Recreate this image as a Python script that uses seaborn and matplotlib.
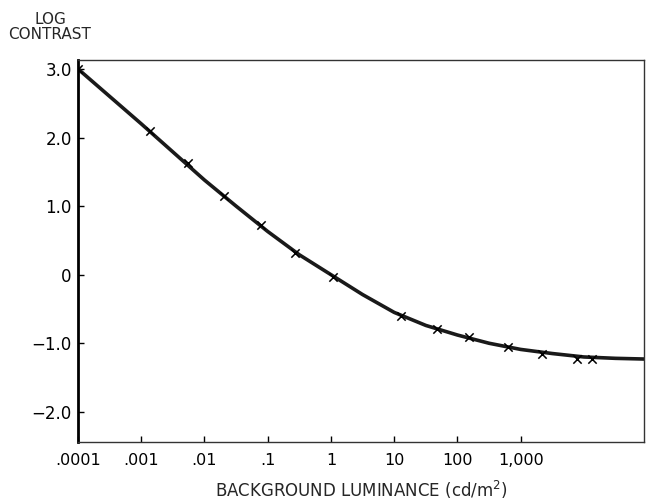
import numpy as np
import pandas as pd
import matplotlib
matplotlib.use("Agg")
import matplotlib.pyplot as plt
import seaborn as sns

# measured data points (luminance cd/m^2, log contrast)
point_lum = [0.0001, 0.00137, 0.0055, 0.0204, 0.078, 0.27, 1.06,
             12.9, 48, 155, 630, 2200, 7900, 13500]
point_logc = [3.0, 2.09, 1.63, 1.15, 0.72, 0.31, -0.03,
              -0.60, -0.795, -0.91, -1.06, -1.16, -1.23, -1.23]

# fitted curve read at half decades
curve_loglum = [-4.0, -3.5, -3.0, -2.5, -2.0, -1.5, -1.0, -0.5, 0.0, 0.5,
                1.0, 1.5, 2.0, 2.5, 3.0, 3.5, 4.0, 4.5, 4.95]
curve_logc = [3.0, 2.6, 2.2, 1.79, 1.38, 1.0, 0.63, 0.29, 0.0, -0.29,
              -0.55, -0.74, -0.88, -1.0, -1.09, -1.15, -1.2, -1.22, -1.23]

xtick_vals = [1e-4, 1e-3, 1e-2, 1e-1, 1, 10, 100, 1000]
xtick_labels = [".0001", ".001", ".01", ".1", "1", "10", "100", "1,000"]
ytick_vals = [3, 2, 1, 0, -1, -2]
ytick_labels = ["3.0", "2.0", "1.0", "0", "\u22121.0", "\u22122.0"]

sns.set_style("ticks")
plt.rcParams['font.family'] = ['DejaVu Sans']

fig = plt.figure(figsize=(6.46, 5.01), dpi=100)
ax_h = 442 - 59.7
ax = fig.add_axes([78/646, 1 - 442/501, (644 - 78)/646, ax_h/501])

curve_df = pd.DataFrame({"lum": 10.0 ** np.array(curve_loglum), "logc": curve_logc})
pts_df = pd.DataFrame({"lum": point_lum, "logc": point_logc})

sns.lineplot(data=curve_df, x="lum", y="logc", ax=ax, color="#1a1a1a",
             linewidth=2.6, sort=True)
sns.scatterplot(data=pts_df, x="lum", y="logc", ax=ax, marker="x", color="black",
                s=36, linewidth=1.1, zorder=3)

ax.set_xscale("log")
ax.set_xlim(1e-4, 10 ** 4.95)
ax.set_ylim(-2.44, 3.135)
ax.set_xticks(xtick_vals)
ax.set_xticklabels(xtick_labels)
ax.xaxis.set_minor_locator(matplotlib.ticker.NullLocator())
ax.set_yticks(ytick_vals)
ax.set_yticklabels(ytick_labels)
ax.tick_params(axis="both", direction="in", length=4, width=1,
               colors="black")
ax.tick_params(axis="x", pad=8, labelsize=11.5)
ax.tick_params(axis="y", pad=4.5, labelsize=12)
ax.set_xlabel("BACKGROUND LUMINANCE (cd/m$^2$)", fontsize=12)
ax.xaxis.set_label_coords(0.5, -(479 - 442) / ax_h)
ax.set_ylabel("")

for side in ["top", "right", "bottom"]:
    ax.spines[side].set_linewidth(1.0)
    ax.spines[side].set_color("#333333")
ax.spines["left"].set_linewidth(2.0)
ax.spines["left"].set_color("black")

fig.text(50/646, 1 - 27/501, "LOG\nCONTRAST", ha="center", va="center",
         fontsize=11, linespacing=0.95)

fig.savefig("out.png", dpi=100)
